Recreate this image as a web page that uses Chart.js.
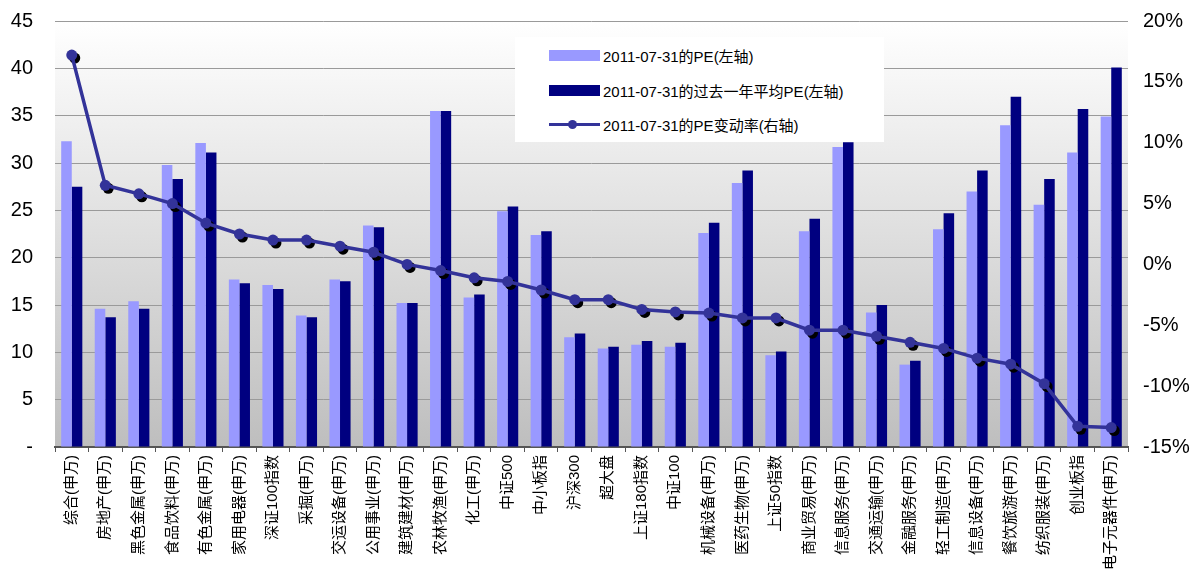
<!DOCTYPE html>
<html>
<head>
<meta charset="utf-8">
<script src="https://cdn.jsdelivr.net/npm/chart.js@4.4.1/dist/chart.umd.min.js"></script>
<style>
  html, body { margin: 0; padding: 0; background: #fff; }
  #wrap { position: relative; width: 1202px; height: 580px; }
  #legend {
    position: absolute; left: 515px; top: 37px; width: 369px; height: 105px;
    background: #fff; font-family: "Liberation Sans", Arial, "Noto Sans CJK SC", sans-serif;
    font-size: 15px; color: #000;
  }
  .row { position: absolute; left: 34px; height: 20px; display: flex; align-items: center; white-space: nowrap; }
  .sw { width: 51px; height: 11px; margin-right: 3px; }
  .ln { width: 51px; height: 11px; margin-right: 3px; position: relative; }
  .ln::before { content: ""; position: absolute; left: 0; right: 0; top: 4px; height: 3px; background: #333399; }
  .ln::after { content: ""; position: absolute; left: 19px; top: 1px; width: 9px; height: 9px; border-radius: 50%; background: #333399; }
</style>
</head>
<body>
<div id="wrap">
  <canvas id="c"></canvas>
  <div id="legend">
    <div class="row" style="top:8px"><span class="sw" style="background:#9999ff"></span><span>2011-07-31的PE(左轴)</span></div>
    <div class="row" style="top:43px"><span class="sw" style="background:#000080"></span><span>2011-07-31的过去一年平均PE(左轴)</span></div>
    <div class="row" style="top:77px"><span class="ln"></span><span>2011-07-31的PE变动率(右轴)</span></div>
  </div>
</div>
<script>
const categories = [
  '综合(申万)', '房地产(申万)', '黑色金属(申万)', '食品饮料(申万)', '有色金属(申万)',
  '家用电器(申万)', '深证100指数', '采掘(申万)', '交运设备(申万)', '公用事业(申万)',
  '建筑建材(申万)', '农林牧渔(申万)', '化工(申万)', '中证500', '中小板指',
  '沪深300', '超大盘', '上证180指数', '中证100', '机械设备(申万)',
  '医药生物(申万)', '上证50指数', '商业贸易(申万)', '信息服务(申万)', '交通运输(申万)',
  '金融服务(申万)', '轻工制造(申万)', '信息设备(申万)', '餐饮旅游(申万)', '纺织服装(申万)',
  '创业板指', '电子元器件(申万)'
];

// PE on 2011-07-31 (left axis)
const peCurrent = [
  32.3, 14.6, 15.4, 29.8, 32.1, 17.7, 17.1, 13.9, 17.7, 23.4,
  15.2, 35.5, 15.8, 24.9, 22.4, 11.6, 10.4, 10.8, 10.6, 22.6,
  27.9, 9.7, 22.8, 31.7, 14.2, 8.7, 23.0, 27.0, 34.0, 25.6,
  31.1, 34.9
];

// Trailing one-year average PE (left axis)
const peYearAvg = [
  27.5, 13.7, 14.6, 28.3, 31.1, 17.3, 16.7, 13.7, 17.5, 23.2,
  15.2, 35.5, 16.1, 25.4, 22.8, 12.0, 10.6, 11.2, 11.0, 23.7,
  29.2, 10.1, 24.1, 32.2, 15.0, 9.1, 24.7, 29.2, 37.0, 28.3,
  35.7, 40.1
];

// PE change rate in percent (right axis)
const peChangePct = [
  17.2, 6.5, 5.8, 5.0, 3.4, 2.5, 2.0, 2.0, 1.5, 1.0,
  0.0, -0.5, -1.1, -1.4, -2.1, -2.9, -2.9, -3.7, -3.9, -4.0,
  -4.4, -4.4, -5.4, -5.4, -5.9, -6.4, -6.9, -7.7, -8.2, -9.8,
  -13.3, -13.4
];

const leftRange = { min: 0, max: 45, step: 5 };
const rightRange = { min: -15, max: 20, step: 5 };

const tickFont = { family: '"Liberation Sans", Arial, sans-serif', size: 20 };

// Plot background: light-to-grey vertical gradient
const plotBackground = {
  id: 'plotBackground',
  beforeDraw(chart) {
    const { ctx, chartArea: a } = chart;
    const g = ctx.createLinearGradient(0, a.top, 0, a.bottom);
    g.addColorStop(0, '#ffffff');
    g.addColorStop(1, '#bebebe');
    ctx.save();
    ctx.fillStyle = g;
    ctx.fillRect(a.left, a.top, a.right - a.left, a.bottom - a.top);
    ctx.restore();
  }
};

// Dark offset shadow behind the line markers
const markerShadow = {
  id: 'markerShadow',
  beforeDatasetDraw(chart, args) {
    if (args.meta.type !== 'line') return;
    const ctx = chart.ctx;
    ctx.save();
    ctx.fillStyle = '#000000';
    args.meta.data.forEach(pt => {
      ctx.beginPath();
      ctx.arc(pt.x + 3, pt.y + 3, 5.5, 0, Math.PI * 2);
      ctx.fill();
    });
    ctx.restore();
  }
};

// Fixed-size vertical axes with no extra label padding above or below
function fixVertical(width) {
  return s => {
    s.width = width;
    s.paddingTop = 0;
    s.paddingBottom = 0;
  };
}

new Chart(document.getElementById('c'), {
  type: 'bar',
  data: {
    labels: categories,
    datasets: [
      {
        type: 'line',
        label: '2011-07-31的PE变动率(右轴)',
        data: peChangePct,
        yAxisID: 'y1',
        borderColor: '#333399',
        backgroundColor: '#333399',
        borderWidth: 3.5,
        pointRadius: 5.5,
        pointBackgroundColor: '#333399',
        pointBorderWidth: 0,
        tension: 0,
        order: 0
      },
      {
        label: '2011-07-31的PE(左轴)',
        data: peCurrent,
        yAxisID: 'y',
        backgroundColor: '#9999ff',
        categoryPercentage: 0.63,
        barPercentage: 1.0,
        order: 1
      },
      {
        label: '2011-07-31的过去一年平均PE(左轴)',
        data: peYearAvg,
        yAxisID: 'y',
        backgroundColor: '#000080',
        categoryPercentage: 0.63,
        barPercentage: 1.0,
        order: 1
      }
    ]
  },
  options: {
    responsive: true,
    maintainAspectRatio: false,
    animation: false,
    layout: { padding: { top: 21, left: 0, right: 0, bottom: 0 } },
    plugins: { legend: { display: false }, tooltip: { enabled: false } },
    scales: {
      x: {
        afterFit(s) { s.height = 133; s.paddingLeft = 0; s.paddingRight = 0; },
        grid: { drawOnChartArea: false, drawTicks: true, tickLength: 5, color: '#555', offset: true },
        border: { display: true, color: '#555', width: 2 },
        ticks: {
          color: '#000',
          autoSkip: false,
          maxRotation: 90,
          minRotation: 90,
          padding: 3,
          font: { family: '"Liberation Sans", Arial, "Noto Sans CJK SC", sans-serif', size: 15 }
        }
      },
      y: {
        position: 'left',
        min: leftRange.min,
        max: leftRange.max,
        afterFit: fixVertical(55),
        grid: { color: '#9a9a9a', drawTicks: false, lineWidth: 1 },
        border: { display: false },
        ticks: {
          stepSize: leftRange.step,
          padding: 22,
          color: '#000',
          font: tickFont,
          callback: v => (v === 0 ? '-' : v)
        }
      },
      y1: {
        position: 'right',
        min: rightRange.min,
        max: rightRange.max,
        afterFit: fixVertical(74),
        grid: { drawOnChartArea: false, drawTicks: false },
        border: { display: false },
        ticks: {
          stepSize: rightRange.step,
          padding: 15,
          color: '#000',
          font: tickFont,
          callback: v => v + '%'
        }
      }
    }
  },
  plugins: [plotBackground, markerShadow]
});
</script>
</body>
</html>
